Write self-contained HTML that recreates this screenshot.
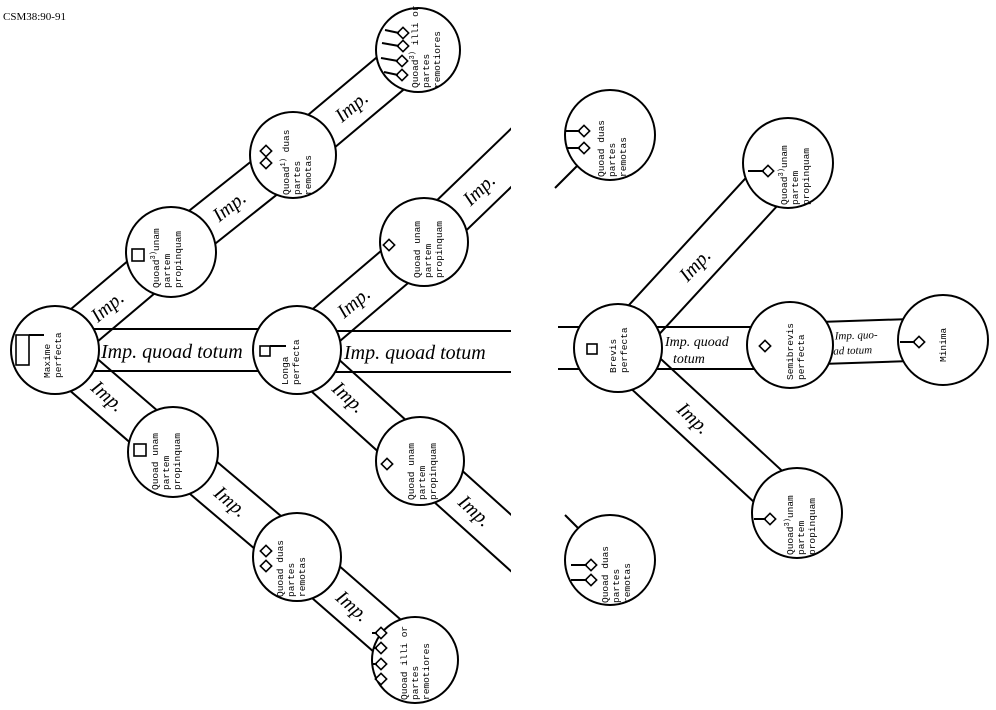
<!DOCTYPE html>
<html><head><meta charset="utf-8"><style>
html,body{margin:0;padding:0;background:#fff;}
svg{display:block;}
.c{fill:#fff;stroke:#000;stroke-width:2;}
.l{stroke:#000;stroke-width:2;fill:none;}
.t{font-family:"Liberation Mono",monospace;font-size:9.5px;fill:#000;}
.h{font-family:"Liberation Serif",serif;font-style:italic;font-size:20px;fill:#000;}
.n{fill:#fff;stroke:#000;stroke-width:1.6;}
</style></head><body>
<svg width="996" height="710" viewBox="0 0 996 710" xmlns="http://www.w3.org/2000/svg">
<defs><clipPath id="lh"><rect x="0" y="0" width="511" height="710"/></clipPath></defs>
<text x="3" y="20" font-family="Liberation Serif,serif" font-size="11">CSM38:90-91</text>

<g clip-path="url(#lh)">
<g transform="translate(55,350) rotate(-40.2)"><line class="l" x1="0" y1="-21" x2="152" y2="-21"/><line class="l" x1="0" y1="21" x2="152" y2="21"/><text class="h" x="50" y="7">Imp.</text></g>
<g transform="translate(171,252) rotate(-38.5)"><line class="l" x1="0" y1="-21" x2="156" y2="-21"/><line class="l" x1="0" y1="21" x2="156" y2="21"/><text class="h" x="56" y="7">Imp.</text></g>
<g transform="translate(293,155) rotate(-40)"><line class="l" x1="0" y1="-21" x2="163" y2="-21"/><line class="l" x1="0" y1="21" x2="163" y2="21"/><text class="h" x="58" y="7">Imp.</text></g>
<g transform="translate(55,350) rotate(40.8)"><line class="l" x1="0" y1="-21" x2="156" y2="-21"/><line class="l" x1="0" y1="21" x2="156" y2="21"/><text class="h" x="52" y="7">Imp.</text></g>
<g transform="translate(173,452) rotate(40.3)"><line class="l" x1="0" y1="-21" x2="162" y2="-21"/><line class="l" x1="0" y1="21" x2="162" y2="21"/><text class="h" x="58" y="7">Imp.</text></g>
<g transform="translate(297,557) rotate(41.1)"><line class="l" x1="0" y1="-21" x2="157" y2="-21"/><line class="l" x1="0" y1="21" x2="157" y2="21"/><text class="h" x="56" y="7">Imp.</text></g>
<g transform="translate(55,350)"><line class="l" x1="0" y1="-21" x2="242" y2="-21"/><line class="l" x1="0" y1="21" x2="242" y2="21"/><text class="h" x="46" y="8">Imp. quoad totum</text></g>
<g transform="translate(297,351)"><line class="l" x1="0" y1="-20" x2="220" y2="-20"/><line class="l" x1="0" y1="21" x2="220" y2="21"/><text class="h" x="47" y="8">Imp. quoad totum</text></g>
<g transform="translate(297,350) rotate(-40.4)"><line class="l" x1="0" y1="-21" x2="167" y2="-21"/><line class="l" x1="0" y1="21" x2="167" y2="21"/><text class="h" x="56" y="7">Imp.</text></g>
<g transform="translate(297,350) rotate(42.1)"><line class="l" x1="0" y1="-21" x2="166" y2="-21"/><line class="l" x1="0" y1="21" x2="166" y2="21"/><text class="h" x="52" y="7">Imp.</text></g>
<g transform="translate(424,242) rotate(-44)"><line class="l" x1="0" y1="-21" x2="160" y2="-21"/><line class="l" x1="0" y1="21" x2="160" y2="21"/><text class="h" x="58" y="7">Imp.</text></g>
<g transform="translate(420,461) rotate(42)"><line class="l" x1="0" y1="-21" x2="160" y2="-21"/><line class="l" x1="0" y1="21" x2="160" y2="21"/><text class="h" x="56" y="7">Imp.</text></g>
</g>

<g transform="translate(618,348) rotate(-47.4)"><line class="l" x1="0" y1="-21" x2="251" y2="-21"/><line class="l" x1="0" y1="21" x2="251" y2="21"/><text class="h" x="95" y="7">Imp.</text></g>
<g transform="translate(618,348) rotate(42.7)"><line class="l" x1="0" y1="-21" x2="243" y2="-21"/><line class="l" x1="0" y1="21" x2="243" y2="21"/><text class="h" x="85" y="7">Imp.</text></g>
<g transform="translate(618,348)"><line class="l" x1="0" y1="-21" x2="172" y2="-21"/><line class="l" x1="0" y1="21" x2="172" y2="21"/><text class="h" x="47" y="-2" style="font-size:14px">Imp. quoad</text><text class="h" x="55" y="15" style="font-size:14px">totum</text></g>
<g transform="translate(790,344) rotate(-1.9)"><line class="l" x1="0" y1="-21" x2="153" y2="-21"/><line class="l" x1="0" y1="21" x2="153" y2="21"/><text class="h" x="45" y="-3" style="font-size:11px">Imp. quo-</text><text class="h" x="43" y="12" style="font-size:11px">ad totum</text></g>
<line class="l" x1="558" y1="327" x2="580" y2="327"/><line class="l" x1="558" y1="369" x2="580" y2="369"/>
<line class="l" x1="555" y1="188" x2="580" y2="163"/>
<line class="l" x1="565" y1="515" x2="585" y2="535"/>

<circle class="c" cx="55" cy="350" r="44"/>
<circle class="c" cx="171" cy="252" r="45"/>
<circle class="c" cx="293" cy="155" r="43"/>
<circle class="c" cx="418" cy="50" r="42"/>
<circle class="c" cx="297" cy="350" r="44"/>
<circle class="c" cx="424" cy="242" r="44"/>
<circle class="c" cx="420" cy="461" r="44"/>
<circle class="c" cx="173" cy="452" r="45"/>
<circle class="c" cx="297" cy="557" r="44"/>
<circle class="c" cx="415" cy="660" r="43"/>
<circle class="c" cx="610" cy="135" r="45"/>
<circle class="c" cx="788" cy="163" r="45"/>
<circle class="c" cx="618" cy="348" r="44"/>
<circle class="c" cx="790" cy="345" r="43"/>
<circle class="c" cx="943" cy="340" r="45"/>
<circle class="c" cx="797" cy="513" r="45"/>
<circle class="c" cx="610" cy="560" r="45"/>

<rect class="n" x="16" y="335" width="13" height="30"/><line class="l" x1="29" y1="335" x2="44" y2="335" stroke-width="1.5"/>
<rect class="n" x="132" y="249" width="12" height="12"/>
<rect class="n" x="134" y="444" width="12" height="12"/>
<rect class="n" x="260" y="346" width="10" height="10"/><line class="l" x1="270" y1="346" x2="286" y2="346" stroke-width="1.5"/>
<rect class="n" x="587" y="344" width="10" height="10"/>
<g class="n">
<rect x="-4" y="-4" width="8" height="8" transform="translate(266,151) rotate(45)"/>
<rect x="-4" y="-4" width="8" height="8" transform="translate(266,163) rotate(45)"/>
<rect x="-4" y="-4" width="8" height="8" transform="translate(389,245) rotate(45)"/>
<rect x="-4" y="-4" width="8" height="8" transform="translate(387,464) rotate(45)"/>
<rect x="-4" y="-4" width="8" height="8" transform="translate(266,551) rotate(45)"/>
<rect x="-4" y="-4" width="8" height="8" transform="translate(266,566) rotate(45)"/>
<rect x="-4" y="-4" width="8" height="8" transform="translate(765,346) rotate(45)"/>
<rect x="-4" y="-4" width="8" height="8" transform="translate(919,342) rotate(45)"/>
<rect x="-4" y="-4" width="8" height="8" transform="translate(584,131) rotate(45)"/>
<rect x="-4" y="-4" width="8" height="8" transform="translate(584,148) rotate(45)"/>
<rect x="-4" y="-4" width="8" height="8" transform="translate(768,171) rotate(45)"/>
<rect x="-4" y="-4" width="8" height="8" transform="translate(770,519) rotate(45)"/>
<rect x="-4" y="-4" width="8" height="8" transform="translate(591,565) rotate(45)"/>
<rect x="-4" y="-4" width="8" height="8" transform="translate(591,580) rotate(45)"/>
<rect x="-4" y="-4" width="8" height="8" transform="translate(403,33) rotate(45)"/>
<rect x="-4" y="-4" width="8" height="8" transform="translate(403,46) rotate(45)"/>
<rect x="-4" y="-4" width="8" height="8" transform="translate(402,61) rotate(45)"/>
<rect x="-4" y="-4" width="8" height="8" transform="translate(402,75) rotate(45)"/>
<rect x="-4" y="-4" width="8" height="8" transform="translate(381,633) rotate(45)"/>
<rect x="-4" y="-4" width="8" height="8" transform="translate(381,648) rotate(45)"/>
<rect x="-4" y="-4" width="8" height="8" transform="translate(381,664) rotate(45)"/>
<rect x="-4" y="-4" width="8" height="8" transform="translate(381,679) rotate(45)"/>
</g>
<g class="l" stroke-width="1.2">
<line x1="385" y1="30" x2="399" y2="33"/><line x1="382" y1="43" x2="399" y2="46"/><line x1="381" y1="58" x2="398" y2="61"/><line x1="384" y1="72" x2="398" y2="75"/>
<line x1="372" y1="633" x2="377" y2="633"/><line x1="373" y1="648" x2="377" y2="648"/><line x1="373" y1="664" x2="377" y2="664"/><line x1="375" y1="679" x2="377" y2="679"/>
<line x1="565" y1="131" x2="580" y2="131"/><line x1="567" y1="148" x2="580" y2="148"/>
<line x1="748" y1="171" x2="764" y2="171"/><line x1="754" y1="519" x2="766" y2="519"/>
<line x1="571" y1="565" x2="587" y2="565"/><line x1="571" y1="580" x2="587" y2="580"/>
<line x1="900" y1="342" x2="915" y2="342"/>
</g>

<g class="t">
<text transform="translate(50,378) rotate(-90)"><tspan x="0" y="0">Maxime</tspan><tspan x="0" y="11">perfecta</tspan></text>
<text transform="translate(159,288) rotate(-90)"><tspan x="0" y="0">Quoad<tspan dy="-4" font-size="7">3)</tspan><tspan dy="4">unam</tspan></tspan><tspan x="0" y="11">partem</tspan><tspan x="0" y="22">propinquam</tspan></text>
<text transform="translate(289,195) rotate(-90)"><tspan x="0" y="0">Quoad<tspan dy="-4" font-size="7">1)</tspan><tspan dy="4"> duas</tspan></tspan><tspan x="0" y="11">partes</tspan><tspan x="0" y="22">remotas</tspan></text>
<text transform="translate(418,88) rotate(-90)"><tspan x="0" y="0">Quoad<tspan dy="-4" font-size="7">3)</tspan><tspan dy="4"> illi or</tspan></tspan><tspan x="0" y="11">partes</tspan><tspan x="0" y="22">remotiores</tspan></text>
<text transform="translate(288,385) rotate(-90)"><tspan x="0" y="0">Longa</tspan><tspan x="0" y="11">perfecta</tspan></text>
<text transform="translate(420,278) rotate(-90)"><tspan x="0" y="0">Quoad unam</tspan><tspan x="0" y="11">partem</tspan><tspan x="0" y="22">propinquam</tspan></text>
<text transform="translate(414,500) rotate(-90)"><tspan x="0" y="0">Quoad unam</tspan><tspan x="0" y="11">partem</tspan><tspan x="0" y="22">propinquam</tspan></text>
<text transform="translate(158,490) rotate(-90)"><tspan x="0" y="0">Quoad unam</tspan><tspan x="0" y="11">partem</tspan><tspan x="0" y="22">propinquam</tspan></text>
<text transform="translate(283,597) rotate(-90)"><tspan x="0" y="0">Quoad duas</tspan><tspan x="0" y="11">partes</tspan><tspan x="0" y="22">remotas</tspan></text>
<text transform="translate(407,700) rotate(-90)"><tspan x="0" y="0">Quoad illi or</tspan><tspan x="0" y="11">partes</tspan><tspan x="0" y="22">remotiores</tspan></text>
<text transform="translate(604,177) rotate(-90)"><tspan x="0" y="0">Quoad duas</tspan><tspan x="0" y="11">partes</tspan><tspan x="0" y="22">remotas</tspan></text>
<text transform="translate(787,205) rotate(-90)"><tspan x="0" y="0">Quoad<tspan dy="-4" font-size="7">3)</tspan><tspan dy="4">unam</tspan></tspan><tspan x="0" y="11">partem</tspan><tspan x="0" y="22">propinquam</tspan></text>
<text transform="translate(616,373) rotate(-90)"><tspan x="0" y="0">Brevis</tspan><tspan x="0" y="11">perfecta</tspan></text>
<text transform="translate(793,380) rotate(-90)"><tspan x="0" y="0">Semibrevis</tspan><tspan x="0" y="11">perfecta</tspan></text>
<text transform="translate(946,362) rotate(-90)"><tspan x="0" y="0">Minima</tspan></text>
<text transform="translate(793,555) rotate(-90)"><tspan x="0" y="0">Quoad<tspan dy="-4" font-size="7">3)</tspan><tspan dy="4">unam</tspan></tspan><tspan x="0" y="11">partem</tspan><tspan x="0" y="22">propinquam</tspan></text>
<text transform="translate(608,603) rotate(-90)"><tspan x="0" y="0">Quoad duas</tspan><tspan x="0" y="11">partes</tspan><tspan x="0" y="22">remotas</tspan></text>
</g>
</svg>
</body></html>
